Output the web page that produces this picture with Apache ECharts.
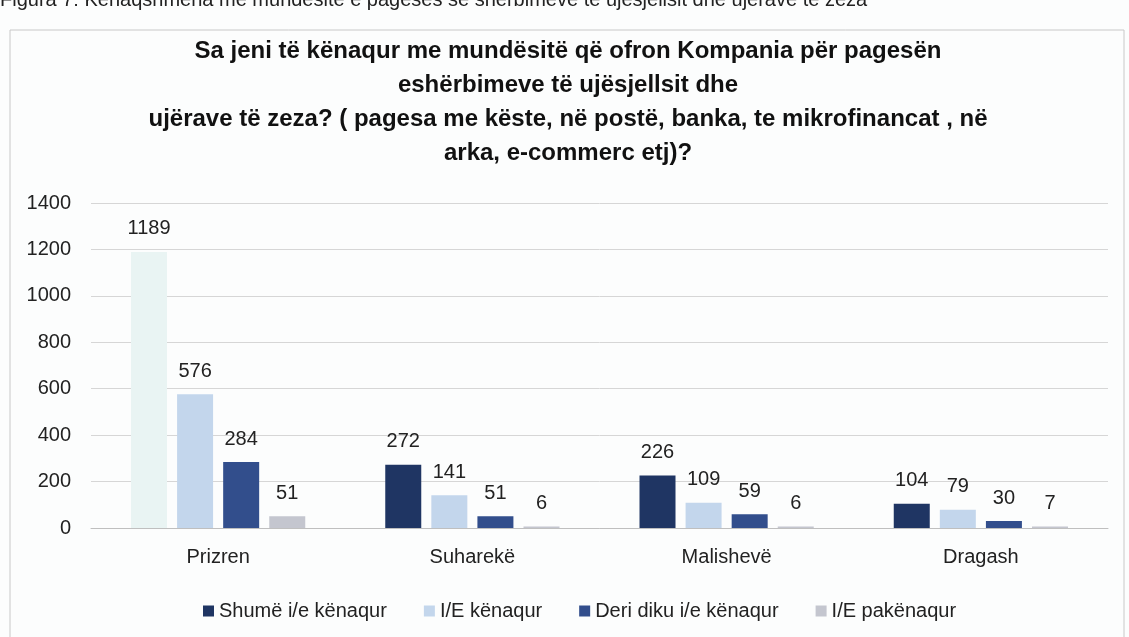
<!DOCTYPE html>
<html>
<head>
<meta charset="utf-8">
<script src="https://cdn.jsdelivr.net/npm/echarts@6/dist/echarts.min.js"></script>
<style>
  html, body { margin: 0; padding: 0; background: #fcfdfd; }
  #chart { width: 1129px; height: 637px; }
</style>
</head>
<body>
<div id="chart"></div>
<script>
// kategoritë (komunat)
const categories = ['Prizren', 'Suharekë', 'Malishevë', 'Dragash'];
const seriesNames = ['Shumë i/e kënaqur', 'I/E kënaqur', 'Deri diku i/e kënaqur', 'I/E pakënaqur'];
const shumeKenaqur = [1189, 272, 226, 104];
const kenaqur = [576, 141, 109, 79];
const deriDiku = [284, 51, 59, 30];
const pakenaqur = [51, 6, 6, 7];
const yTicks = [0, 200, 400, 600, 800, 1000, 1200, 1400];

const colors = ['#1f3563', '#c3d6ec', '#324e8c', '#c4c6cf'];
const font = 'Liberation Sans';

const chart = echarts.init(document.getElementById('chart'));

const values = [shumeKenaqur, kenaqur, deriDiku, pakenaqur];
const series = values.map((vals, i) => ({
  name: seriesNames[i],
  type: 'bar',
  barWidth: 36,
  barGap: '28%',
  // shtylla e parë në skanim duket shumë e zbehtë
  data: vals.map((v, j) => (i === 0 && j === 0) ? { value: v, itemStyle: { color: '#e9f4f3' } } : v),
  itemStyle: { color: colors[i] },
  label: {
    show: true,
    position: 'top',
    distance: 13,
    color: '#222',
    fontFamily: font,
    fontSize: 20
  }
}));

const option = {
  backgroundColor: '#fcfdfd',
  animation: false,
  title: {
    text: 'Sa jeni të kënaqur me mundësitë që ofron Kompania për pagesën\neshërbimeve të ujësjellsit dhe\nujërave të zeza? ( pagesa me këste, në postë, banka, te mikrofinancat , në\narka, e-commerc etj)?',
    left: 563,
    textAlign: 'center',
    top: 29,
    textStyle: {
      fontFamily: font,
      fontSize: 24,
      fontWeight: 'bold',
      color: '#111',
      lineHeight: 34
    }
  },
  graphic: [
    {
      type: 'rect',
      shape: { x: 10, y: 30, width: 1114, height: 620 },
      style: { fill: 'none', stroke: '#c8c8c8', lineWidth: 1 }
    },
    {
      type: 'text',
      left: 0,
      top: -10,
      style: {
        text: 'Figura 7: Kënaqshmëria me mundësitë e pagesës së shërbimeve të ujësjellsit dhe ujërave të zeza',
        fontFamily: font,
        fontSize: 20,
        fill: '#222'
      }
    }
  ],
  legend: {
    data: seriesNames,
    left: 198,
    top: 596,
    itemWidth: 11,
    itemHeight: 11,
    itemGap: 37,
    icon: 'rect',
    textStyle: { fontFamily: font, fontSize: 20, color: '#222' }
  },
  grid: { left: 91, right: 21, top: 203, bottom: 109 },
  xAxis: {
    type: 'category',
    data: categories,
    axisLine: { lineStyle: { color: '#bfbfbf' } },
    axisTick: { show: false },
    axisLabel: { fontFamily: font, fontSize: 20, color: '#222', margin: 19 }
  },
  yAxis: {
    type: 'value',
    min: yTicks[0],
    max: yTicks[yTicks.length - 1],
    interval: 200,
    axisLine: { show: false },
    axisTick: { show: false },
    splitLine: { lineStyle: { color: '#d6d6d6' } },
    axisLabel: {
      fontFamily: font, fontSize: 20, color: '#222', margin: 20,
      formatter: v => String(v)
    }
  },
  series: series
};

chart.setOption(option);
</script>
</body>
</html>
